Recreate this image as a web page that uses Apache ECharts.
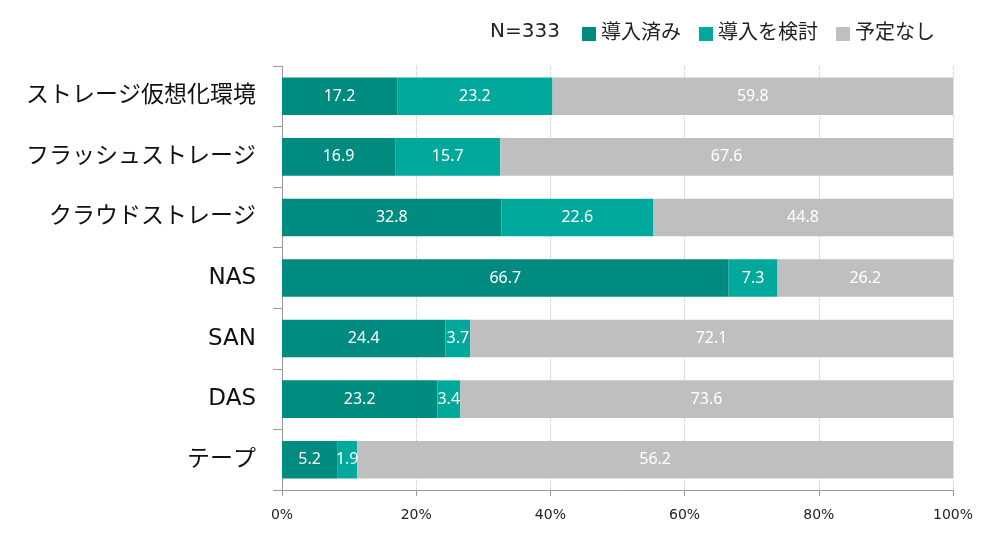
<!DOCTYPE html>
<html><head><meta charset="utf-8">
<script src="https://cdn.jsdelivr.net/npm/echarts@6/dist/echarts.min.js"></script>
<style>html,body{margin:0;padding:0;background:#fff}#c{width:1000px;height:547px}</style>
</head><body><div id="c"></div>
<script>
const categories = ['ストレージ仮想化環境','フラッシュストレージ','クラウドストレージ','NAS','SAN','DAS','テープ'];
const implemented = [17.2, 16.9, 32.8, 66.7, 24.4, 23.2, 5.2];
const considering = [23.2, 15.7, 22.6, 7.3, 3.7, 3.4, 1.9];
const noPlan = [59.8, 67.6, 44.8, 26.2, 72.1, 73.6, 56.2];
const seriesNames = ['導入済み','導入を検討','予定なし'];
const xTicks = ['0%','20%','40%','60%','80%','100%'];
const colors = ['#008B80','#00A99C','#BFBFBF'];

const raw = [implemented, considering, noPlan];
const totals = categories.map((_, i) => raw.reduce((s, arr) => s + arr[i], 0));
const catRev = categories.slice().reverse();
const labelFont = '"Liberation Sans Narrow","Noto Sans",sans-serif';
const jpFont = '"DejaVu Sans","Noto Sans CJK JP",sans-serif';

const series = raw.map((arr, k) => ({
  name: seriesNames[k],
  type: 'bar',
  stack: 'total',
  barCategoryGap: '38%',
  itemStyle: { color: colors[k] },
  label: {
    show: true, position: 'inside', color: '#fff',
    fontFamily: labelFont, fontSize: 16,
    formatter: p => arr[categories.length - 1 - p.dataIndex].toFixed(1)
  },
  data: arr.map((v, i) => v / totals[i] * 100).reverse()
}));

const chart = echarts.init(document.getElementById('c'));
chart.setOption({
  animation: false,
  textStyle: { fontFamily: jpFont },
  graphic: [{ type: 'text', left: 490, top: 22, style: { text: 'N=333', fontSize: 20, fontFamily: jpFont, fill: '#222' } }],
  legend: {
    top: 24, left: 582, padding: 0, itemWidth: 14, itemHeight: 14, itemGap: 18,
    icon: 'rect',
    textStyle: { fontSize: 20, color: '#222', fontFamily: jpFont },
    data: seriesNames
  },
  grid: { left: 282, right: 47, top: 66, bottom: 57, containLabel: false },
  xAxis: {
    type: 'value', min: 0, max: 100, interval: 20,
    axisLine: { show: true, lineStyle: { color: '#999' } },
    axisTick: { show: true, length: 6, lineStyle: { color: '#999' } },
    splitLine: { show: true, lineStyle: { color: '#c8c8c8', type: 'dotted' } },
    axisLabel: { fontSize: 14, color: '#222', margin: 18, fontFamily: jpFont, formatter: v => xTicks[v / 20] }
  },
  yAxis: {
    type: 'category', data: catRev,
    axisLine: { show: true, lineStyle: { color: '#999' } },
    axisTick: { show: true, length: 9, lineStyle: { color: '#999' } },
    axisLabel: { fontSize: 23, color: '#111', margin: 26, fontFamily: jpFont }
  },
  series
});
</script></body></html>
